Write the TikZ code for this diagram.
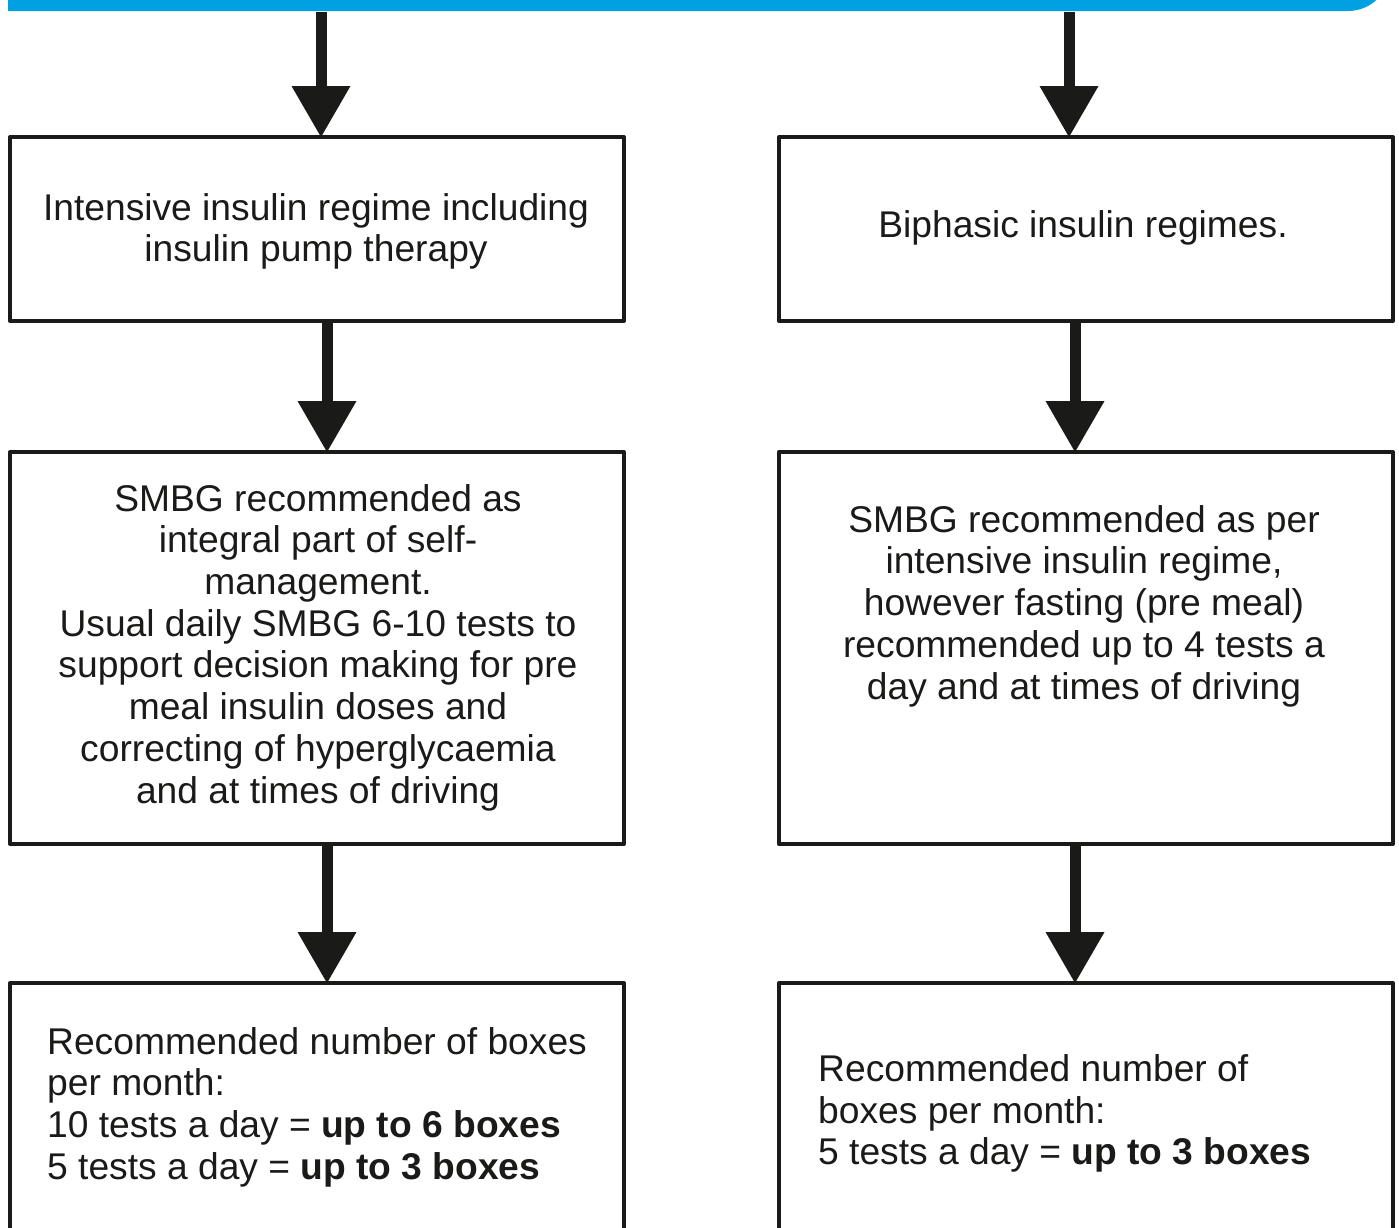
\documentclass[tikz,border=0pt]{standalone}
\usepackage{fontspec}
\setmainfont{Liberation Sans}
\usetikzlibrary{arrows.meta}
\definecolor{inkblack}{RGB}{26,26,24}
\definecolor{barblue}{RGB}{0,160,227}
\tikzset{
  flowbox/.style={draw=inkblack,line width=4pt,line join=round,minimum width=614pt,minimum height=#1,inner sep=0pt,outer sep=0pt},
  boxtext/.style={inner sep=0pt,align=#1,text=inkblack,font=\fontsize{37.2}{41.7}\selectfont},
  downarrow/.style={draw=inkblack,fill=inkblack,line width=11pt,-{Triangle[width=59pt,length=51pt,line width=0pt]}}
}
\begin{document}
\begin{tikzpicture}[x=1pt,y=-1pt]
\useasboundingbox (0,0) rectangle (1399,1227);
\clip (0,0) rectangle (1399,1227);
% blue bar at the top
\fill[barblue] (8,-60) -- (8,11) -- (1348,11) .. controls (1371.2,11) and (1390,-7.8) .. (1390,-31) -- (1390,-60) -- cycle;
\coordinate (barL) at (321,12);
\coordinate (barR) at (1069,12);
% boxes
\node[flowbox=184pt] (L1) at (317,229) {};
\node[flowbox=184pt] (R1) at (1086,229) {};
\node[flowbox=392pt] (L2) at (317,648) {};
\node[flowbox=392pt] (R2) at (1086,648) {};
\node[flowbox=290pt] (L3) at (317,1128) {};
\node[flowbox=290pt] (R3) at (1086,1128) {};
% texts
\node[boxtext=center] (tL1) at (316,231.5) {Intensive insulin regime including\\insulin pump therapy};
\node[boxtext=center] (tR1) at (1083,227.5) {Biphasic insulin regimes.};
\node[boxtext=center] (tL2) at (318,647.5) {SMBG recommended as\\integral part of self-\\management.\\Usual daily SMBG 6-10 tests to\\support decision making for pre\\meal insulin doses and\\correcting of hyperglycaemia\\and at times of driving};
\node[boxtext=center] (tR2) at (1084,606) {SMBG recommended as per\\intensive insulin regime,\\however fasting (pre meal)\\recommended up to 4 tests a\\day and at times of driving};
\node[boxtext=left,anchor=west] (tL3) at (47,1107) {Recommended number of boxes\\per month:\\10 tests a day = \textbf{up to 6 boxes}\\5 tests a day = \textbf{up to 3 boxes}};
\node[boxtext=left,anchor=west] (tR3) at (818,1113.5) {Recommended number of\\boxes per month:\\5 tests a day = \textbf{up to 3 boxes}};
% arrows
\draw[downarrow] (barL) -- ([xshift=4pt]L1.north);
\draw[downarrow] (barR) -- ([xshift=-17pt]R1.north);
\draw[downarrow] ([xshift=10pt]L1.south) -- ([xshift=10pt]L2.north);
\draw[downarrow] ([xshift=-11pt]R1.south) -- ([xshift=-11pt]R2.north);
\draw[downarrow] ([xshift=10pt]L2.south) -- ([xshift=10pt]L3.north);
\draw[downarrow] ([xshift=-11pt]R2.south) -- ([xshift=-11pt]R3.north);
\end{tikzpicture}
\end{document}
